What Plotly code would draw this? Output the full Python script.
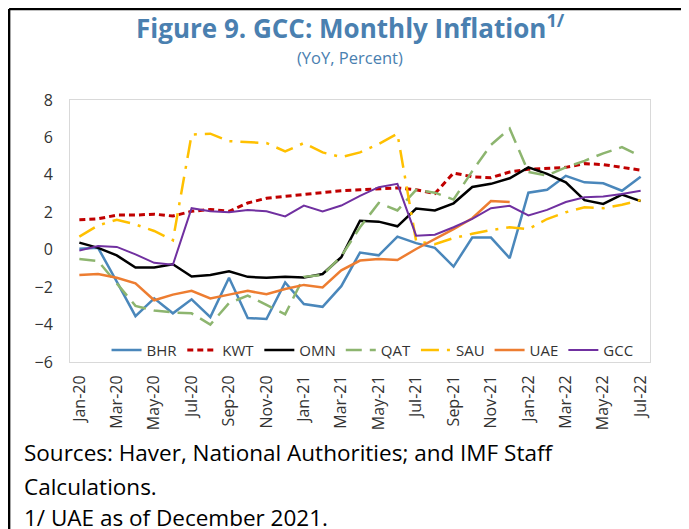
import plotly.graph_objects as go

months = ["Jan-20", "Feb-20", "Mar-20", "Apr-20", "May-20", "Jun-20", "Jul-20", "Aug-20",
          "Sep-20", "Oct-20", "Nov-20", "Dec-20", "Jan-21", "Feb-21", "Mar-21", "Apr-21",
          "May-21", "Jun-21", "Jul-21", "Aug-21", "Sep-21", "Oct-21", "Nov-21", "Dec-21",
          "Jan-22", "Feb-22", "Mar-22", "Apr-22", "May-22", "Jun-22", "Jul-22"]

bhr = [0.05, 0.1, -1.7, -3.55, -2.6, -3.4, -2.65, -3.6, -1.5, -3.65, -3.7, -1.75, -2.9, -3.05,
       -1.95, -0.15, -0.3, 0.7, 0.35, 0.1, -0.9, 0.65, 0.65, -0.45, 3.05, 3.2, 3.95, 3.6,
       3.55, 3.15, 3.9]
kwt = [1.6, 1.65, 1.85, 1.85, 1.9, 1.8, 2.05, 2.15, 2.05, 2.5, 2.75, 2.85, 2.95, 3.05, 3.15,
       3.2, 3.25, 3.3, 3.2, 3.0, 4.1, 3.9, 3.85, 4.15, 4.3, 4.35, 4.4, 4.6, 4.55, 4.4, 4.25]
omn = [0.38, 0.1, -0.3, -0.95, -0.95, -0.78, -1.43, -1.35, -1.15, -1.45, -1.5, -1.45, -1.48,
       -1.3, -0.4, 1.55, 1.5, 1.25, 2.2, 2.1, 2.48, 3.35, 3.52, 3.82, 4.4, 4.05, 3.6, 2.65,
       2.45, 2.95, 2.6]
qat = [-0.5, -0.6, -1.8, -3.0, -3.25, -3.35, -3.4, -4.0, -2.85, -2.45, -2.95, -3.45, -1.45,
       -1.35, -0.35, 1.2, 2.5, 2.1, 3.2, 3.05, 2.68, 4.2, 5.6, 6.47, 4.15, 3.97, 4.4, 4.75,
       5.15, 5.48, 5.0]
sau = [0.7, 1.3, 1.6, 1.35, 1.0, 0.5, 6.15, 6.2, 5.8, 5.75, 5.7, 5.25, 5.7, 5.2, 4.95, 5.2,
       5.65, 6.2, 0.45, 0.3, 0.62, 0.85, 1.05, 1.2, 1.1, 1.64, 2.0, 2.27, 2.22, 2.4, 2.65]
uae = [-1.35, -1.3, -1.5, -1.8, -2.7, -2.4, -2.2, -2.6, -2.4, -2.2, -2.38, -2.1, -1.88, -2.02,
       -1.1, -0.58, -0.5, -0.55, 0.04, 0.55, 1.1, 1.68, 2.6, 2.55]
gcc = [-0.05, 0.2, 0.15, -0.25, -0.7, -0.8, 2.22, 2.05, 2.0, 2.12, 2.05, 1.78, 2.36, 2.05,
       2.36, 2.88, 3.34, 3.52, 0.75, 0.8, 1.2, 1.65, 2.22, 2.35, 1.83, 2.13, 2.55, 2.8, 2.85,
       2.98, 3.15]

idx = list(range(len(months)))

series = [
    ("BHR", bhr, "#4a87bb", "solid", 2.5),
    ("KWT", kwt, "#c00000", "6px,4px", 3),
    ("OMN", omn, "#000000", "solid", 2.5),
    ("QAT", qat, "#8db56f", "16px,8px", 2.5),
    ("SAU", sau, "#ffc000", "18px,8px,3px,8px", 2.5),
    ("UAE", uae, "#ed7d31", "solid", 2.5),
    ("GCC", gcc, "#7030a0", "solid", 2),
]

fig = go.Figure()
for name, vals, col, dash, w in series:
    fig.add_trace(go.Scatter(x=idx[:len(vals)], y=vals, name=name, mode="lines",
                             line=dict(color=col, dash=dash, width=w)))

font = "Open Sans, sans-serif"
# page body adds an 8px margin, so the figure is drawn 8px smaller
fig.update_layout(
    width=681, height=521,
    margin=dict(l=62, r=39, t=92, b=167),
    plot_bgcolor="white", paper_bgcolor="white",
    font=dict(family=font, color="#333333", size=15),
    showlegend=True,
    legend=dict(orientation="h", x=0.063, y=0.045, xanchor="left", yanchor="middle",
                font=dict(size=15, color="#333333"), bgcolor="rgba(0,0,0,0)",
                itemwidth=30, tracegroupgap=0),
)
fig.update_xaxes(range=[-0.5, 30.5], tickmode="array", tickvals=idx[::2],
                 ticktext=months[::2], tickangle=-90, showgrid=False, zeroline=False,
                 showline=True, mirror=True, linecolor="#d9d9d9", ticks="",
                 ticklabelstandoff=6, tickfont=dict(size=16, color="#333333"))
fig.update_yaxes(range=[-6, 8], dtick=2, showgrid=False, zeroline=False,
                 showline=True, mirror=True, linecolor="#d9d9d9", ticks="",
                 ticklabelstandoff=13, tickfont=dict(size=16, color="#333333"))

# zero line with tick marks between every second month
fig.update_layout(xaxis2=dict(overlaying="x", anchor="free", position=6 / 14, side="bottom",
                              range=[-0.5, 30.5], tickmode="array",
                              tickvals=[i + 0.5 for i in idx[1:-1:2]],
                              ticks="inside", ticklen=5, tickcolor="#bfbfbf",
                              showticklabels=False, showline=True, linecolor="#bfbfbf",
                              linewidth=1.5, showgrid=False, zeroline=False))

title_col = "#4a80b0"
fig.add_annotation(text="<b>Figure 9. GCC: Monthly Inflation<sup>1/</sup></b>",
                   xref="paper", yref="paper", x=0.483, y=1.28, yanchor="middle",
                   showarrow=False, font=dict(size=26, color=title_col, family=font))
fig.add_annotation(text="(YoY, Percent)", xref="paper", yref="paper", x=0.483, y=1.162,
                   yanchor="middle", showarrow=False,
                   font=dict(size=16.5, color=title_col, family=font))

notes = ["Sources: Haver, National Authorities; and IMF Staff",
         "Calculations.",
         "1/ UAE as of December 2021."]
for txt, yy in zip(notes, [-0.347, -0.477, -0.595]):
    fig.add_annotation(text=txt, xref="paper", yref="paper", x=-0.083, y=yy,
                       xanchor="left", yanchor="middle", showarrow=False,
                       font=dict(size=22.5, color="#000000", family=font))

# outer frame (top and left edges)
fig.add_shape(type="line", xref="paper", yref="paper", x0=-0.105, x1=1.07, y0=1.347, y1=1.347,
              line=dict(color="black", width=2.5))
fig.add_shape(type="line", xref="paper", yref="paper", x0=-0.105, x1=-0.105, y0=1.347, y1=-0.64,
              line=dict(color="black", width=2.5))

fig.write_html("out.html")
